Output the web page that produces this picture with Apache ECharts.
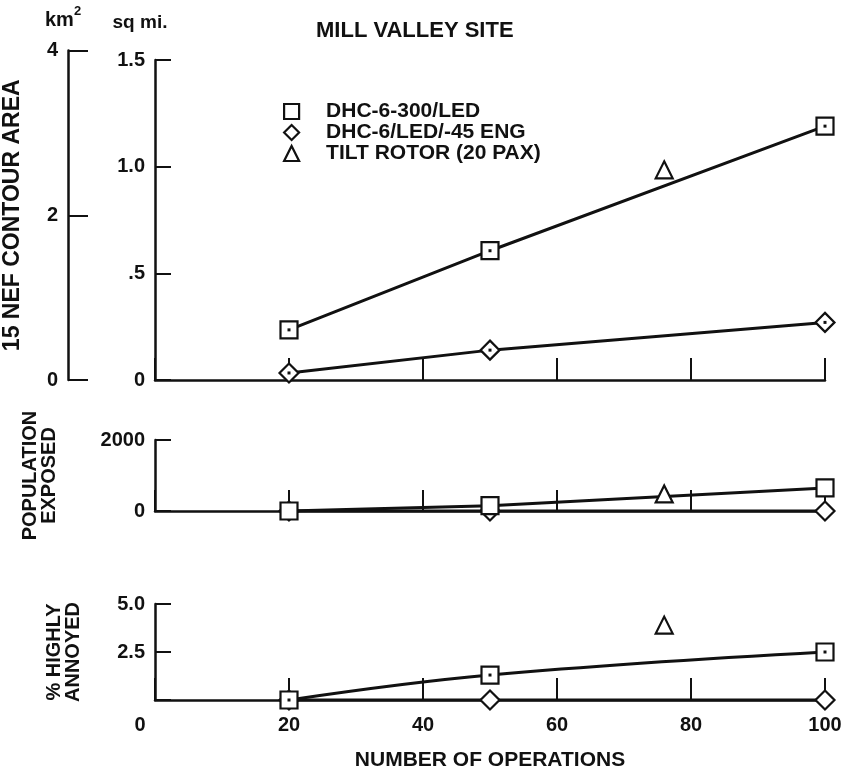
<!DOCTYPE html>
<html>
<head>
<meta charset="utf-8">
<script src="https://cdn.jsdelivr.net/npm/echarts@6/dist/echarts.min.js"></script>
<style>
html,body{margin:0;padding:0;background:#fff;}
#chart{width:847px;height:772px;}
</style>
</head>
<body>
<div id="chart"></div>
<script>
// ---- data ----
const seriesNames = ['DHC-6-300/LED', 'DHC-6/LED/-45 ENG', 'TILT ROTOR (20 PAX)'];
const ops = [20, 50, 100];
const tiltOps = [76];
// 15 NEF contour area, sq mi
const areaDHC300 = [0.235, 0.606, 1.19];
const areaDHC45 = [0.033, 0.14, 0.27];
const areaTilt = [0.985];
// population exposed
const popDHC300 = [0, 150, 650];
const popDHC45 = [0, 0, 0];
const popTilt = [480];
// % highly annoyed
const annoyDHC300 = [0, 1.3, 2.5];
const annoyDHC45 = [0, 0, 0];
const annoyTilt = [3.9];
// tick labels
const sqmiLabels = {0: '0', 0.5: '.5', 1: '1.0', 1.5: '1.5'};
const kmLabels = {0: '0', 2: '2', 4: '4'};
const popLabels = {0: '0', 2000: '2000'};
const annoyLabels = {0: '', 2.5: '2.5', 5: '5.0'};
const SQMI_PER_KM2 = 0.386102;

const zip = (xs, ys) => xs.map((x, i) => [x, ys[i]]);

const INK = '#111';
const FONT = 'Liberation Sans';
const txt = {color: INK, fontFamily: FONT, fontSize: 20, fontWeight: 'bold'};

// geometry of top panel
const topY0 = 380, topH = 320; // 1.5 sq mi at 60
const kmH = topH * (4 * SQMI_PER_KM2) / 1.5;

function xAx(grid, opts) {
  return Object.assign({
    type: 'value', gridIndex: grid, min: 0, max: 100, interval: 20,
    axisLine: {show: true, onZero: false, lineStyle: {color: INK, width: 2.5}},
    axisTick: {show: true, inside: true, length: 22, lineStyle: {color: INK, width: 2}},
    axisLabel: {show: false},
    splitLine: {show: false}
  }, opts || {});
}
function yAx(grid, min, max, interval, labels, opts) {
  return Object.assign({
    type: 'value', gridIndex: grid, min: min, max: max, interval: interval,
    axisLine: {show: true, onZero: false, lineStyle: {color: INK, width: 2.5}},
    axisTick: {show: true, inside: true, length: 16, lineStyle: {color: INK, width: 2}},
    axisLabel: Object.assign({margin: 10, formatter: v => (labels[v] !== undefined ? labels[v] : '')}, txt),
    splitLine: {show: false}
  }, opts || {});
}

const hollow = {color: '#fff', borderColor: INK, borderWidth: 2.2, opacity: 1};
function lineSeries(name, xi, yi, data, symbol, size, z, smooth) {
  return {
    name: name, type: 'line', xAxisIndex: xi, yAxisIndex: yi, data: data,
    symbol: symbol, symbolSize: size, showAllSymbol: true, smooth: smooth || false,
    lineStyle: {color: INK, width: 3}, itemStyle: hollow, z: z
  };
}
function pointSeries(name, xi, yi, data, symbol, size) {
  return {
    name: name, type: 'scatter', xAxisIndex: xi, yAxisIndex: yi, data: data,
    symbol: symbol, symbolSize: size, itemStyle: hollow, z: 6
  };
}
function dotSeries(xi, yi, data) {
  return {
    type: 'scatter', xAxisIndex: xi, yAxisIndex: yi, data: data,
    symbol: 'rect', symbolSize: 3, itemStyle: {color: INK, opacity: 1}, z: 7, silent: true
  };
}

const option = {
  backgroundColor: '#fff',
  animation: false,
  title: {
    text: 'MILL VALLEY SITE', left: 311, top: 15,
    textStyle: {color: INK, fontFamily: FONT, fontSize: 22, fontWeight: 'bold'}
  },
  legend: {
    orient: 'vertical', left: 283, top: 101, itemGap: 0, padding: 0,
    itemWidth: 15, itemHeight: 15,
    itemStyle: {color: '#fff', borderColor: INK, borderWidth: 2.2, opacity: 1},
    textStyle: {color: INK, fontFamily: FONT, fontSize: 21, fontWeight: 'bold', lineHeight: 21, padding: [0, 0, 0, 22]},
    data: [
      {name: seriesNames[0], icon: 'rect'},
      {name: seriesNames[1], icon: 'diamond'},
      {name: seriesNames[2], icon: 'triangle'}
    ]
  },
  grid: [
    {left: 155, right: 22, top: topY0 - topH, height: topH},
    {left: 68, width: 20, top: topY0 - kmH, height: kmH},
    {left: 155, right: 22, top: 440, height: 71},
    {left: 155, right: 22, top: 604, height: 97}
  ],
  xAxis: [
    xAx(0),
    xAx(1, {show: false}),
    xAx(2, {axisTick: {show: true, inside: true, length: 21, lineStyle: {color: INK, width: 2}}}),
    xAx(3, {
      axisTick: {show: true, inside: true, length: 22, lineStyle: {color: INK, width: 2}},
      axisLabel: Object.assign({
        show: true, margin: 15,
        formatter: v => (v === 0 ? '{z|0}' : String(v)),
        rich: {z: Object.assign({padding: [0, 30, 0, 0]}, txt)}
      }, txt),
      name: 'NUMBER OF OPERATIONS', nameLocation: 'middle', nameGap: 50,
      nameTextStyle: {color: INK, fontFamily: FONT, fontSize: 21, fontWeight: 'bold'}
    })
  ],
  yAxis: [
    yAx(0, 0, 1.5, 0.5, sqmiLabels, {
      name: 'sq mi.', nameLocation: 'end', nameGap: 28,
      nameTextStyle: {color: INK, fontFamily: FONT, fontSize: 19, fontWeight: 'bold', align: 'center', padding: [0, 30, 0, 0]}
    }),
    yAx(1, 0, 4, 2, kmLabels, {
      axisTick: {show: true, inside: true, length: 20, lineStyle: {color: INK, width: 2}},
      name: '15 NEF CONTOUR AREA', nameLocation: 'middle', nameGap: 44,
      nameTextStyle: {color: INK, fontFamily: FONT, fontSize: 23, fontWeight: 'bold'}
    }),
    yAx(2, 0, 2000, 2000, popLabels, {
      name: 'POPULATION\nEXPOSED', nameLocation: 'middle', nameGap: 96,
      nameTextStyle: {color: INK, fontFamily: FONT, fontSize: 20, fontWeight: 'bold', lineHeight: 19}
    }),
    yAx(3, 0, 5, 2.5, annoyLabels, {
      name: '% HIGHLY\nANNOYED', nameLocation: 'middle', nameGap: 72,
      nameTextStyle: {color: INK, fontFamily: FONT, fontSize: 20, fontWeight: 'bold', lineHeight: 19}
    })
  ],
  graphic: [
    {type: 'text', left: 45, top: 10, style: {text: 'km', fill: INK, font: 'bold 20px "Liberation Sans"'}},
    {type: 'text', left: 74, top: 5, style: {text: '2', fill: INK, font: 'bold 13px "Liberation Sans"'}}
  ],
  series: [
    // top panel
    lineSeries(seriesNames[0], 0, 0, zip(ops, areaDHC300), 'rect', 17, 5),
    lineSeries(seriesNames[1], 0, 0, zip(ops, areaDHC45), 'diamond', 19, 4),
    pointSeries(seriesNames[2], 0, 0, zip(tiltOps, areaTilt), 'triangle', 17),
    dotSeries(0, 0, zip(ops, areaDHC300).concat(zip(ops, areaDHC45))),
    // middle panel
    lineSeries(seriesNames[0], 2, 2, zip(ops, popDHC300), 'rect', 17, 5),
    lineSeries(seriesNames[1], 2, 2, zip(ops, popDHC45), 'diamond', 19, 4),
    pointSeries(seriesNames[2], 2, 2, zip(tiltOps, popTilt), 'triangle', 17),
    // bottom panel
    lineSeries(seriesNames[0], 3, 3, zip(ops, annoyDHC300), 'rect', 17, 5, 0.4),
    lineSeries(seriesNames[1], 3, 3, zip(ops, annoyDHC45), 'diamond', 19, 4),
    pointSeries(seriesNames[2], 3, 3, zip(tiltOps, annoyTilt), 'triangle', 17),
    dotSeries(3, 3, zip(ops, annoyDHC300))
  ]
};

const chart = echarts.init(document.getElementById('chart'), null, {renderer: 'canvas'});
chart.setOption(option);
</script>
</body>
</html>
